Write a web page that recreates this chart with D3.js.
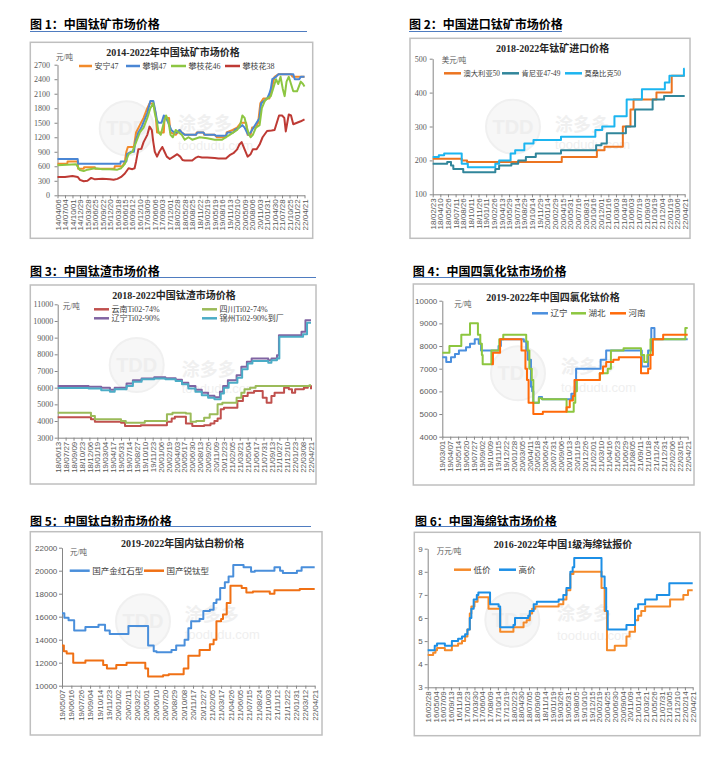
<!DOCTYPE html>
<html><head><meta charset="utf-8">
<script src="https://cdn.jsdelivr.net/npm/d3@7"></script>
<style>body{margin:0;background:#fff}</style>
</head><body>
<svg id="c" width="723" height="768"></svg>
<script>
// ---------- DATA (x = position on category axis, in label-index units) ----------
const p1Labels = ["14/04/06","14/07/04","14/10/01","14/12/29","15/03/28","15/06/25","15/09/22","15/12/20","16/03/18","16/06/15","16/09/12","16/12/10","17/03/09","17/06/06","17/09/03","17/12/01","18/02/28","18/05/28","18/08/25","18/11/22","19/02/19","19/05/19","19/08/16","19/11/13","20/02/10","20/05/09","20/08/06","20/11/03","21/01/31","21/04/30","21/07/28","21/10/25","22/01/22","22/04/21"];
const p1Anning47 = [[0,650],[1.3,650],[1.35,700],[2.7,700],[2.75,550],[3.5,550],[3.55,580],[5,580],[5.05,550],[7.6,550],[7.65,600],[8.7,600],[9,700],[9.2,900],[9.4,1000],[10.2,1000],[10.5,1300],[11,1450],[11.5,1600],[12,1800],[12.3,1900],[12.8,1900],[13.1,1700],[13.3,1300],[14.2,1300],[14.3,1600],[14.9,1600],[15.1,1300],[15.8,1250],[16.3,1350],[16.6,1300],[17,1250],[18.5,1250],[18.6,1300],[19.5,1300],[19.6,1250],[21,1250],[21.3,1200],[22.5,1200],[22.6,1300],[23.4,1350],[24,1400],[24.5,1500],[25.2,1500],[25.4,1250],[25.8,1250],[26,1400],[26.5,1400],[26.8,1500],[27.1,1900],[27.5,2000],[28.3,2000],[28.6,2200],[29,2450],[29.5,2500],[31.2,2500],[31.4,2450],[33,2450]];
const p1Pangang47 = [[0,750],[2.7,750],[2.75,650],[8.4,650],[8.45,700],[9.2,700],[9.3,850],[9.8,900],[10.2,900],[10.4,1100],[10.8,1300],[11.2,1400],[11.6,1550],[12,1700],[12.4,1950],[12.8,1950],[13.0,1800],[13.3,1550],[13.5,1500],[13.9,1500],[14.2,1650],[14.5,1600],[14.8,1500],[15.2,1350],[15.6,1300],[16,1300],[16.3,1350],[16.6,1300],[17,1250],[18.5,1250],[18.7,1300],[19.5,1300],[19.7,1250],[21,1250],[21.2,1230],[22.5,1230],[22.7,1300],[23.5,1300],[23.7,1350],[24.3,1400],[24.7,1450],[25,1400],[25.3,1300],[25.5,1250],[25.8,1300],[26.2,1400],[26.6,1500],[27,1600],[27.2,1900],[28,2000],[28.3,2100],[28.5,2200],[28.7,2400],[29.2,2450],[29.5,2500],[31.5,2500],[31.7,2400],[32.3,2400],[32.5,2450],[33,2450]];
const p1Pzh46 = [[0,620],[2.5,640],[3,520],[3.5,500],[4,530],[5,560],[6,540],[7,540],[8,530],[8.5,560],[9,650],[9.5,850],[10,900],[10.5,1100],[11,1300],[11.5,1400],[12,1600],[12.4,1800],[12.8,1900],[13,1700],[13.3,1500],[13.5,1300],[13.8,1250],[14.2,1500],[14.5,1650],[14.8,1550],[15.1,1250],[15.4,1200],[15.8,1350],[16.2,1300],[16.6,1250],[17,1150],[17.5,1200],[18,1150],[19,1200],[20,1180],[21,1150],[22,1150],[22.5,1200],[23,1250],[23.5,1300],[24,1350],[24.4,1450],[24.7,1650],[25,1600],[25.3,1400],[25.6,1250],[25.8,1200],[26.1,1250],[26.5,1400],[27,1450],[27.3,1800],[27.7,1950],[28,2000],[28.5,2050],[29,2300],[29.2,2400],[29.5,2300],[29.8,2450],[30.1,2200],[30.35,2050],[30.6,2350],[30.9,2450],[31.2,2300],[31.5,2150],[32,2150],[32.5,2350],[32.8,2300],[33,2250]];
const p1Pzh38 = [[0,380],[1,380],[2,400],[2.7,380],[3,320],[3.5,290],[4,300],[4.5,360],[5,330],[6,340],[7,330],[7.5,320],[8,340],[8.5,380],[9,450],[9.5,560],[10,540],[10.3,560],[10.5,700],[10.8,950],[11.2,960],[11.5,1100],[12,1250],[12.3,1420],[12.6,1350],[12.8,1100],[13,900],[13.3,800],[13.6,900],[14,1000],[14.3,900],[14.6,800],[15,750],[15.5,800],[16,850],[16.4,800],[16.7,730],[17,720],[18,720],[18.5,780],[18.8,800],[19.3,780],[20,780],[21,770],[21.5,760],[22.5,760],[23,830],[23.5,870],[24,950],[24.3,1050],[24.6,1100],[25,950],[25.4,800],[25.8,850],[26.1,950],[26.6,950],[27,1050],[27.4,1200],[28,1330],[28.6,1340],[29,1350],[29.3,1500],[29.6,1650],[30,1650],[30.3,1600],[30.5,1320],[30.7,1500],[30.9,1670],[31.2,1650],[31.5,1470],[32,1500],[32.5,1530],[33,1570]];

const p2Labels = ["18/02/23","18/04/10","18/05/26","18/07/11","18/08/26","18/10/11","18/11/26","19/01/11","19/02/26","19/04/13","19/05/29","19/07/14","19/08/29","19/10/14","19/11/29","20/01/14","20/02/29","20/04/15","20/05/31","20/07/16","20/08/31","20/10/16","20/12/01","21/01/16","21/03/03","21/04/18","21/06/03","21/07/19","21/09/03","21/10/19","21/12/04","22/01/19","22/03/06","22/04/21"];
const p2Australia50 = [[0,205],[3.8,200],[4.5,195],[16.9,210],[21.5,230],[22.5,240],[24.9,300],[25.9,350],[26.3,380],[29.3,400],[31.3,450],[33,450]];
const p2Kenya4749 = [[0,190],[1.9,195],[2.4,185],[2.7,175],[4.0,165],[8.2,175],[8.7,185],[10.3,190],[11.2,200],[12.2,210],[13.5,220],[16.8,230],[21.4,245],[22.1,250],[22.8,280],[25.3,300],[26.5,350],[28.8,380],[30.3,390],[33,390]];
const p2Mozambique50 = [[0,210],[0.8,215],[1.5,220],[3.8,190],[4.6,180],[8.2,190],[8.7,200],[10.2,220],[10.8,230],[12.0,250],[13.2,260],[16.8,270],[21.3,290],[22.2,300],[23.8,330],[25.4,380],[27.4,410],[30.4,430],[31.0,450],[32.9,470],[33,470]];

const p3Labels = ["18/06/13","18/07/27","18/09/09","18/10/23","18/12/06","19/01/19","19/03/04","19/04/17","19/05/31","19/07/14","19/08/27","19/10/10","19/11/23","20/01/06","20/02/19","20/04/03","20/05/17","20/06/30","20/08/13","20/09/26","20/11/09","20/12/23","21/02/05","21/03/21","21/05/04","21/06/17","21/07/31","21/09/13","21/10/27","21/12/10","22/01/23","22/03/08","22/04/21"];
const p3Yunnan74 = [[0,4220],[4.2,4100],[4.7,3950],[8.0,3900],[8.5,3700],[10.5,3750],[13.8,3950],[14.4,4150],[14.8,4250],[16.2,3850],[17.0,3700],[18.5,3750],[19.3,3850],[19.8,4000],[20.2,4150],[20.6,4700],[21.0,4800],[22.7,5200],[23.4,5500],[24.0,5700],[24.8,5800],[25.9,5400],[26.4,5100],[27.0,5500],[27.4,5700],[28.6,6000],[29.2,5900],[29.6,5700],[30.0,5900],[31.1,6000],[31.6,6100],[32,5900]];
const p3Sichuan74 = [[0,4500],[4.2,4300],[4.7,4100],[8.0,4000],[8.6,3900],[11,4000],[13.8,4400],[14.5,4500],[16.2,4450],[16.8,3950],[17.5,4000],[18.5,4200],[19.2,4400],[20.2,5000],[20.8,5100],[22.6,5400],[23.2,5700],[23.6,5900],[24.3,6000],[25.0,6100],[31.8,6150],[32,6150]];
const p3Liaoning90 = [[0,6100],[3.9,6050],[5.5,6000],[6.6,5880],[7.2,6000],[8.7,6250],[9.5,6450],[10.6,6550],[12.2,6620],[13.6,6560],[14.9,6470],[15.7,6300],[16.5,6100],[17.4,5880],[18.2,5700],[19.0,5520],[19.8,5430],[20.5,5760],[20.9,6100],[21.5,6450],[22.6,6750],[23.2,7250],[23.9,7550],[24.5,7750],[26.6,7650],[27.0,7750],[27.7,7950],[27.95,9150],[30.8,9350],[31.3,10050],[32,10050]];
const p3Jinzhou90 = [[0,5980],[3.9,5950],[5.5,5850],[6.6,5750],[7.2,5900],[8.7,6100],[9.5,6350],[10.6,6500],[12.2,6550],[13.6,6500],[14.9,6400],[15.7,6200],[16.5,5950],[17.4,5750],[18.2,5550],[19.0,5400],[19.8,5300],[20.6,5650],[21.0,6000],[21.6,6300],[22.7,6600],[23.3,7100],[24.0,7450],[24.6,7600],[26.6,7500],[27.0,7650],[27.7,7750],[28.0,9050],[31.0,9200],[31.5,9900],[32,9900]];

const p4Labels = ["19/03/01","19/04/07","19/05/14","19/06/20","19/07/27","19/09/02","19/10/09","19/11/15","19/12/22","20/01/28","20/03/05","20/04/11","20/05/18","20/06/24","20/07/31","20/09/06","20/10/13","20/11/19","20/12/26","21/02/01","21/03/10","21/04/16","21/05/23","21/06/29","21/08/05","21/09/11","21/10/18","21/11/24","21/12/31","22/02/06","22/03/15","22/04/21"];
const p4Liaoning = [[0,7500],[0.5,7300],[1.1,7500],[1.6,7650],[2.1,7800],[3.0,7950],[3.5,8100],[4.1,8300],[4.6,8100],[4.9,7800],[7.1,8000],[7.4,8300],[10.3,8200],[10.6,7800],[10.8,7400],[11.2,6200],[11.35,6000],[11.5,5500],[12.2,5750],[12.6,5650],[16.3,5900],[16.7,6000],[16.9,7000],[20.0,7400],[20.7,7800],[25.2,7100],[26.0,7800],[26.4,8800],[26.8,8300],[31,8300]];
const p4Hubei = [[0,7700],[0.9,8000],[2.4,8500],[3.5,9000],[4.5,8500],[4.8,8100],[5.0,7600],[5.1,7200],[6.2,7800],[7.2,8300],[7.7,8500],[10.6,8200],[10.8,7800],[11.0,7000],[11.3,6500],[11.5,5500],[12.2,5700],[12.6,5650],[15.7,5100],[16.6,5500],[16.8,6000],[17.0,6500],[19.9,6800],[20.9,7000],[21.3,7800],[22.9,7900],[25.1,7600],[25.5,7300],[25.9,7600],[26.3,8300],[30.7,8800],[31,8800]];
const p4Henan = [[6.2,7200],[6.4,7700],[7.3,8300],[10.0,7800],[10.5,7000],[10.7,6500],[10.9,5500],[11.5,5000],[12.7,5100],[15.7,5300],[16.1,5600],[16.5,5800],[16.7,6500],[19.9,6800],[20.3,7100],[20.7,7300],[21.6,7400],[22.3,7500],[25.1,6800],[26.0,7000],[26.3,7600],[26.6,8300],[27.9,8500],[31,8500]];

const p5Labels = ["19/05/07","19/06/16","19/07/26","19/09/04","19/10/14","19/11/23","20/01/02","20/02/11","20/03/22","20/05/01","20/06/10","20/07/20","20/08/29","20/10/08","20/11/17","20/12/27","21/02/05","21/03/17","21/04/26","21/06/05","21/07/15","21/08/24","21/10/03","21/11/12","21/12/22","22/01/31","22/03/12","22/04/21"];
const p5Rutile = [[0,16300],[0.25,15900],[0.7,15700],[1.3,14800],[2.5,15100],[3.9,15300],[4.6,14800],[5.1,14500],[7.1,15200],[9.2,13500],[9.8,13000],[10.1,12900],[11.7,13100],[12.2,13500],[13.1,14000],[13.5,15000],[13.8,15600],[14.7,15800],[15.1,16500],[15.8,16600],[16.2,17200],[16.5,17500],[16.9,18500],[17.4,19000],[17.8,19500],[18.3,20500],[19.4,20300],[20.2,19900],[20.6,20000],[22.7,20300],[23.3,20000],[23.6,19800],[25.1,20000],[25.6,20300],[27,20300]];
const p5Anatase = [[0,13500],[0.2,13000],[0.5,12800],[1.2,12000],[2.5,12200],[4.4,11800],[4.8,11500],[5.8,11800],[6.9,12000],[8.9,11500],[9.2,10800],[10.8,10900],[11.4,11000],[13.0,11500],[13.5,12600],[14.7,13100],[15.8,13600],[16.2,14000],[16.5,15600],[17.0,15800],[17.2,16200],[17.6,17200],[18.0,18700],[19.2,18500],[19.7,18100],[20.4,18200],[22.2,18000],[22.7,18300],[25.4,18400],[27,18400]];

const p6Labels = ["16/02/28","16/05/04","16/07/09","16/09/13","16/11/18","17/01/23","17/03/30","17/06/04","17/08/09","17/10/14","17/12/19","18/02/23","18/04/30","18/07/05","18/09/09","18/11/14","19/01/19","19/03/26","19/05/31","19/08/05","19/10/10","19/12/15","20/02/19","20/04/25","20/06/30","20/09/04","20/11/09","21/01/14","21/03/21","21/05/26","21/07/31","21/10/05","21/12/10","22/02/14","22/04/21"];
const p6Low = [[0,4.4],[0.7,4.5],[1.0,4.6],[1.2,4.7],[2.2,4.6],[3.1,4.8],[3.9,4.9],[4.4,5.0],[4.8,5.2],[5.1,5.5],[5.4,6.2],[5.6,6.5],[6.0,6.7],[6.4,6.9],[7.8,6.4],[9.3,5.4],[11.0,5.6],[12.3,5.8],[12.7,5.9],[13.1,6.2],[13.4,6.4],[13.8,6.5],[16.8,6.6],[17.4,6.8],[17.8,7.2],[18.3,7.9],[18.7,8.0],[22.3,7.3],[22.7,6.3],[23.0,4.6],[24.0,4.8],[25.5,5.2],[25.9,5.4],[26.6,5.9],[27.0,6.1],[27.4,6.3],[27.9,6.5],[31.1,6.8],[32.8,7.0],[33.4,7.2],[34,7.2]];
const p6High = [[0,4.6],[0.9,4.8],[1.2,4.9],[2.2,4.8],[3.1,5.0],[3.9,5.1],[4.4,5.2],[4.8,5.3],[5.1,5.5],[5.4,6.0],[5.6,6.4],[5.9,6.8],[6.3,7.0],[6.5,7.1],[8.0,6.6],[9.1,6.5],[9.3,5.6],[11.0,5.7],[11.2,6.0],[12.9,6.1],[13.1,6.3],[13.6,6.6],[14.0,6.7],[16.8,6.8],[17.4,7.0],[17.8,7.3],[18.3,8.0],[18.6,8.2],[18.8,8.6],[22.3,7.8],[22.7,7.3],[22.9,6.3],[23.1,5.5],[25.5,5.7],[26.6,6.4],[27.0,6.6],[27.9,6.8],[29.4,7.0],[31.0,7.5],[34,7.5]];

// ---------- LAYOUT ----------
const CJK = "'Noto Sans CJK SC', sans-serif";
const SERIF = "'Liberation Serif', 'Noto Sans CJK SC', serif";
const SANS = "'Liberation Sans', Arial, sans-serif";

const panels = [
 {head:"图 1：中国钛矿市场价格", hx:30, hy:29, ul:[30,307,31.5], box:[30.3,42.3,312.7,238.3],
  plot:[57.5,304.5,195.3,64.7], yDom:[0,2700], yStep:300, yPad:4.5, yFont:SERIF,
  title:"2014-2022年中国钛矿市场价格", tx:173, ty:55.5, unit:"元/吨", ux:56, uy:59.5,
  labels:p1Labels, curve:d3.curveLinear, lf:8,
  wm:[126.7,128.3,178,130,150],
  series:[
   {d:p1Anning47,c:"#F28A2A",n:"安宁47",lx:79,ly:66,ll:13},
   {d:p1Pangang47,c:"#4A86D4",n:"攀钢47",lx:126,ly:66,ll:14},
   {d:p1Pzh46,c:"#8DC642",n:"攀枝花46",lx:171,ly:66,ll:15},
   {d:p1Pzh38,c:"#BE3A34",n:"攀枝花38",lx:225,ly:66,ll:15}]},
 {head:"图 2：中国进口钛矿市场价格", hx:409, hy:29, ul:[409,562,31.5], box:[410,38.3,690,238.3],
  plot:[432.7,684.7,194.3,58.7], yDom:[100,500], yStep:100, yPad:3, yFont:SERIF,
  title:"2018-2022年钛矿进口价格", tx:552.7, ty:52, unit:"美元/吨", ux:441.7, uy:62.5,
  labels:p2Labels, curve:d3.curveStepAfter, lf:7.3,
  wm:[513,126.7,555,131,149],
  series:[
   {d:p2Australia50,c:"#EC7420",n:"澳大利亚50",lx:444,ly:73.3,ll:17},
   {d:p2Kenya4749,c:"#31869B",n:"肯尼亚47-49",lx:502,ly:73.3,ll:17},
   {d:p2Mozambique50,c:"#1CB5F0",n:"莫桑比克50",lx:565,ly:73.3,ll:17}]},
 {head:"图 3：中国钛渣市场价格", hx:30, hy:276, ul:[30,316,277.5], box:[30.3,285,316,484],
  plot:[57.7,311,437.7,304.3], yDom:[3000,11000], yStep:1000, yPad:1.5, yFont:SERIF,
  title:"2018-2022中国钛渣市场价格", tx:174, ty:298.5, unit:"元/吨", ux:62.7, uy:309,
  labels:p3Labels, curve:d3.curveStepAfter, lf:8,
  wm:[136.7,365,181.7,376,393],
  series:[
   {d:p3Yunnan74,c:"#C0504D",n:"云南Ti02-74%",lx:94,ly:309.3,ll:15},
   {d:p3Sichuan74,c:"#9BBB59",n:"四川Ti02-74%",lx:202,ly:309.3,ll:15},
   {d:p3Liaoning90,c:"#8064A2",n:"辽宁Ti02-90%",lx:94,ly:318.3,ll:15},
   {d:p3Jinzhou90,c:"#4BACC6",n:"锦州Ti02-90%到厂",lx:202,ly:318.3,ll:15}]},
 {head:"图 4：中国四氯化钛市场价格", hx:412.7, hy:276, ul:[413,565,277.5], box:[413.3,284,694,485],
  plot:[442.3,687.7,436.7,300.7], yDom:[4000,10000], yStep:1000, yPad:2, yFont:SANS,
  title:"2019-2022年中国四氯化钛价格", tx:553, ty:300.8, unit:"元/吨", ux:454.3, uy:306.5,
  labels:p4Labels, curve:d3.curveStepAfter, lf:8.5,
  wm:[518,373.3,561,373,392],
  series:[
   {d:p4Liaoning,c:"#4A8FDE",n:"辽宁",lx:532,ly:313.3,ll:16},
   {d:p4Hubei,c:"#8DC63F",n:"湖北",lx:571,ly:313.3,ll:15},
   {d:p4Henan,c:"#FF6A0A",n:"河南",lx:610,ly:313.3,ll:16}]},
 {head:"图 5：中国钛白粉市场价格", hx:30, hy:525.5, ul:[30,311,526.5], box:[30.3,531.7,322,735],
  plot:[62,314.7,685.7,547.7], yDom:[10000,22000], yStep:2000, yPad:1.7, yFont:SANS,
  title:"2019-2022年国内钛白粉价格", tx:182.7, ty:546.8, unit:"元/吨", ux:70, uy:555.2,
  labels:p5Labels, curve:d3.curveStepAfter, lf:8.5,
  wm:[143,621.3,184.7,621,639],
  series:[
   {d:p5Rutile,c:"#4A8FDB",n:"国产金红石型",lx:69.7,ly:570.7,ll:20},
   {d:p5Anatase,c:"#F07014",n:"国产锐钛型",lx:144,ly:570.7,ll:20}]},
 {head:"图 6：中国海绵钛市场价格", hx:415, hy:525.5, ul:[415,557,526.5], box:[414.3,532.3,700,735.7],
  plot:[427.7,692.7,687.3,548.7], yDom:[3,9], yStep:1, yPad:2, yFont:SANS,
  title:"2016-2022年中国1级海绵钛报价", tx:563, ty:547.5, unit:"万元/吨", ux:436.7, uy:554.2,
  labels:p6Labels, curve:d3.curveStepAfter, lf:8.5,
  wm:[512.3,619.7,557,620,640],
  series:[
   {d:p6Low,c:"#F58A2A",n:"低价",lx:454,ly:569.7,ll:17},
   {d:p6High,c:"#1C8FE6",n:"高价",lx:499,ly:569.7,ll:17}]}
];

const svg = d3.select("#c");

panels.forEach(p => {
  const g = svg.append("g");
  // heading
  g.append("text").attr("x", p.hx).attr("y", p.hy).text(p.head)
    .style("font-family", CJK).style("font-weight", 700).style("font-size", "12px").attr("fill", "#000");
  g.append("line").attr("x1", p.ul[0]).attr("x2", p.ul[1]).attr("y1", p.ul[2]).attr("y2", p.ul[2])
    .attr("stroke", "#4F7CC0").attr("stroke-width", 1);
  // box
  g.append("rect").attr("x", p.box[0]).attr("y", p.box[1])
    .attr("width", p.box[2] - p.box[0]).attr("height", p.box[3] - p.box[1])
    .attr("fill", "#fff").attr("stroke", "#BFBFBF").attr("stroke-width", 1.5);

  const [x0, x1, yb, yt] = p.plot;
  const n = p.labels.length;
  const x = d3.scaleLinear().domain([0, n - 1]).range([x0, x1]);
  const y = d3.scaleLinear().domain(p.yDom).range([yb, yt]);

  // faint watermark
  const wm = g.append("g");
  wm.append("circle").attr("cx", p.wm[0]).attr("cy", p.wm[1]).attr("r", 27)
    .attr("fill", "#F7F7F7").attr("stroke", "#F0F0F0").attr("stroke-width", 2);
  wm.append("text").attr("x", p.wm[0]).attr("y", p.wm[1] + 7).attr("text-anchor", "middle")
    .text("TDD").style("font-family", SANS).style("font-weight", 700).style("font-size", "20px").attr("fill", "#EEEEEE");
  wm.append("text").attr("x", p.wm[2]).attr("y", p.wm[3]).text("涂多多")
    .style("font-family", CJK).style("font-weight", 700).style("font-size", "18px").attr("fill", "#F0F0F0");
  wm.append("text").attr("x", p.wm[2]).attr("y", p.wm[4]).text("toodudu.com")
    .style("font-family", SANS).style("font-size", "13px").attr("fill", "#EFEFEF");

  // y axis
  const yTicks = d3.range(p.yDom[0], p.yDom[1] + p.yStep / 2, p.yStep);
  const ya = g.append("g").attr("transform", `translate(${x0},0)`)
    .call(d3.axisLeft(y).tickValues(yTicks).tickSize(3).tickSizeOuter(0).tickPadding(p.yPad).tickFormat(d3.format("d")));
  ya.selectAll("path,line").attr("stroke", "#868686");
  ya.selectAll("text").style("font-family", p.yFont).style("font-size", "8px").attr("fill", "#595959");

  // x axis
  const xa = g.append("g").attr("transform", `translate(0,${yb})`)
    .call(d3.axisBottom(x).tickValues(d3.range(n)).tickFormat(i => p.labels[i]).tickSize(3).tickSizeOuter(0));
  xa.selectAll("path,line").attr("stroke", "#868686");
  xa.selectAll("text").attr("transform", "rotate(-90)").attr("x", -4).attr("y", 0).attr("dy", "0.33em")
    .style("text-anchor", "end").style("font-family", SANS).style("font-size", "8px").attr("fill", "#595959");

  // title + unit
  g.append("text").attr("x", p.tx).attr("y", p.ty).attr("text-anchor", "middle").text(p.title)
    .style("font-family", SERIF).style("font-weight", 700).style("font-size", "10px").attr("fill", "#262626");
  g.append("text").attr("x", p.ux).attr("y", p.uy).text(p.unit)
    .style("font-family", SERIF).style("font-size", "7.5px").attr("fill", "#595959");

  // series
  const line = d3.line().x(d => x(d[0])).y(d => y(d[1])).curve(p.curve);
  p.series.forEach(s => {
    g.append("path").datum(s.d).attr("d", line).attr("fill", "none")
      .attr("stroke", s.c).attr("stroke-width", 2).attr("stroke-linejoin", "round");
  });
  // legend
  p.series.forEach(s => {
    g.append("line").attr("x1", s.lx).attr("x2", s.lx + s.ll).attr("y1", s.ly).attr("y2", s.ly)
      .attr("stroke", s.c).attr("stroke-width", 2.5);
    g.append("text").attr("x", s.lx + s.ll + 2.5).attr("y", s.ly + 3).text(s.n)
      .style("font-family", SERIF).style("font-size", p.lf + "px").attr("fill", "#404040");
  });
});
</script>
</body></html>
